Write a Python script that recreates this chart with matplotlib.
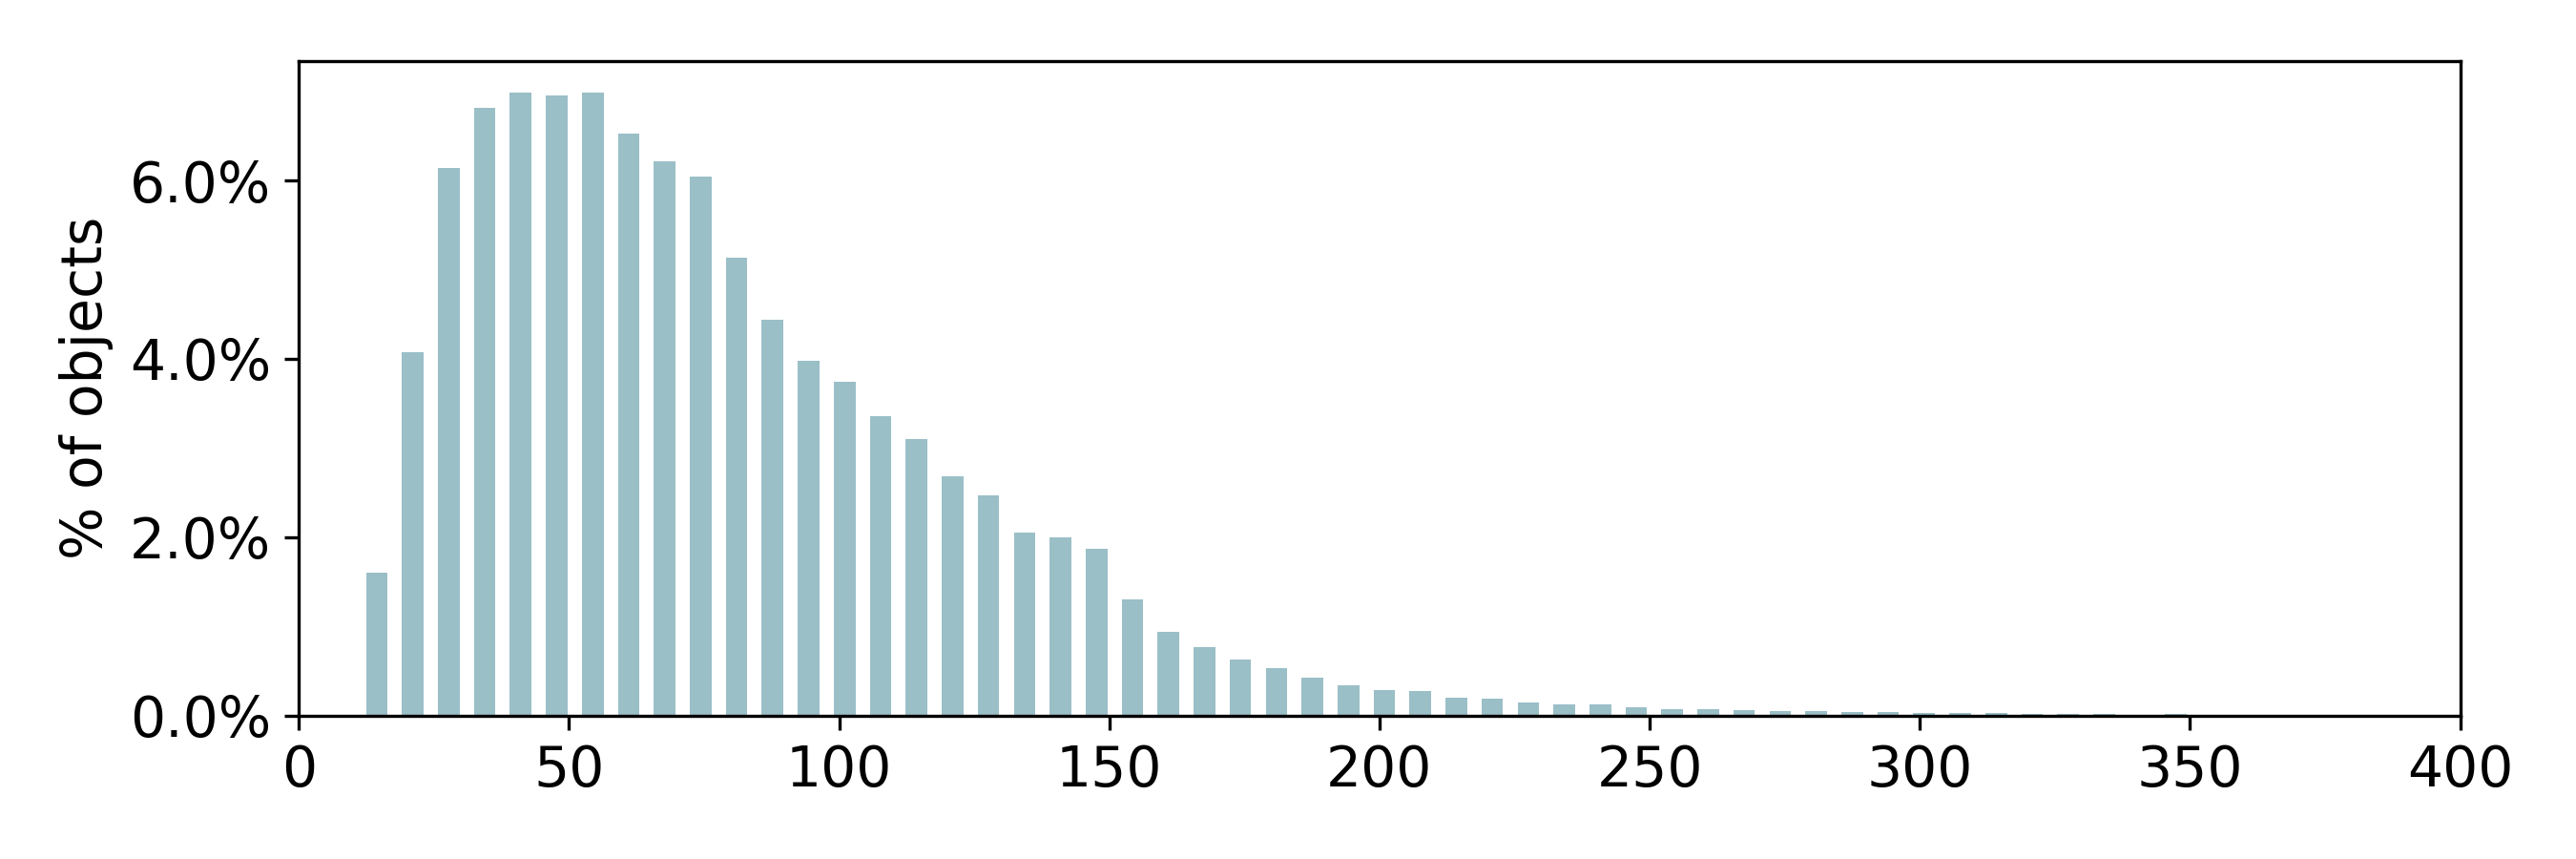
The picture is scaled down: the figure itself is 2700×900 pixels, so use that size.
import numpy as np
import matplotlib
matplotlib.use('Agg')
import matplotlib.pyplot as plt
from matplotlib.ticker import PercentFormatter

# histogram bins (left edge of first bin, bin width) and share of objects per bin, in %
bin_start = 11.1
bin_width = 6.66
pct_objects = [1.60, 4.07, 6.14, 6.81, 6.99, 6.95, 6.99, 6.53, 6.22, 6.04,
               5.13, 4.44, 3.98, 3.74, 3.36, 3.10, 2.68, 2.47, 2.05, 2.00,
               1.87, 1.30, 0.94, 0.77, 0.63, 0.53, 0.42, 0.34, 0.29, 0.27,
               0.20, 0.19, 0.15, 0.13, 0.12, 0.097, 0.075, 0.075, 0.064, 0.054,
               0.045, 0.043, 0.043, 0.032, 0.032, 0.032, 0.022, 0.022, 0.022, 0.0,
               0.020]
x_ticks = [0, 50, 100, 150, 200, 250, 300, 350, 400]
y_ticks = [0, 2, 4, 6]

plt.rcParams['font.size'] = 14

edges = bin_start + bin_width * np.arange(len(pct_objects) + 1)
centers = 0.5 * (edges[:-1] + edges[1:])

fig, ax = plt.subplots(1, 1, figsize=(9, 3), dpi=300)
fig.subplots_adjust(left=0.116, right=0.955, top=0.929, bottom=0.167)

ax.hist(centers, bins=edges, weights=pct_objects, rwidth=0.6, color='#9ABFC7')

ax.set_xlim(0, 400)
ax.set_xticks(x_ticks)
ax.set_yticks(y_ticks)
ax.yaxis.set_major_formatter(PercentFormatter(xmax=100, decimals=1))
ax.set_ylabel('% of objects')

fig.savefig('out.png', dpi=300)
